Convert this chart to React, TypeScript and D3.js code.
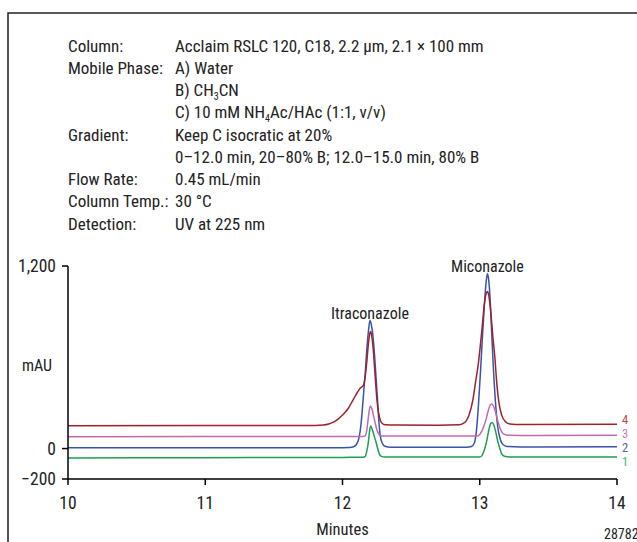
import React from "react";
import * as d3 from "d3";

type Pt = [number, number];

const xTicks = [10, 11, 12, 13, 14];
const yTicks = [1200, 0, -200];
const peakNames = ["Itraconazole", "Miconazole"];
const peakTimes = [12.2, 13.056];
const peakLabelValues = [890, 1195];
const traceNames = ["1", "2", "3", "4"];
const traceColors = ["#1f9e4f", "#3853ad", "#c46aac", "#9e2228"];
const labelColors = ["#3cbc68", "#5064b8", "#d07cbc", "#b0484e"];

const header: [string, string][] = [
  ["Column:", "Acclaim RSLC 120, C18, 2.2 µm, 2.1 × 100 mm"],
  ["Mobile Phase:", "A) Water"],
  ["", "B) CH|3|CN"],
  ["", "C) 10 mM NH|4|Ac/HAc (1:1, v/v)"],
  ["Gradient:", "Keep C isocratic at 20%"],
  ["", "0–12.0 min, 20–80% B; 12.0–15.0 min, 80% B"],
  ["Flow Rate:", "0.45  mL/min"],
  ["Column Temp.:", "30 °C"],
  ["Detection:", "UV at 225 nm"],
];

const trace1: Pt[] = [
  [10, -62], [11, -60], [12, -58], [12.15, -57], [12.165, -53], [12.175, -25],
  [12.189, 46], [12.198, 120], [12.205, 149], [12.215, 130], [12.23, 85],
  [12.243, 46], [12.255, 5], [12.268, -35], [12.28, -50], [12.31, -56],
  [12.6, -56], [13.0, -56], [13.015, -48], [13.035, -5], [13.052, 56],
  [13.068, 130], [13.082, 168], [13.09, 170], [13.1, 160], [13.115, 115],
  [13.129, 56], [13.145, 5], [13.16, -35], [13.18, -50], [13.22, -55], [14, -55],
];

const trace2: Pt[] = [
  [10, 5], [11, 6], [11.5, 6], [12.0, 6], [12.05, 7], [12.08, 12], [12.1, 25],
  [12.12, 70], [12.135, 160], [12.15, 320], [12.165, 490], [12.177, 649],
  [12.19, 780], [12.2, 841], [12.21, 815], [12.222, 740], [12.233, 620],
  [12.245, 460], [12.255, 320], [12.265, 180], [12.275, 85], [12.29, 35],
  [12.31, 15], [12.35, 9], [12.6, 8], [12.9, 9], [12.94, 14], [12.96, 35],
  [12.975, 110], [12.99, 280], [13.005, 500], [13.02, 740], [13.035, 960],
  [13.047, 1100], [13.056, 1149], [13.065, 1110], [13.077, 960], [13.09, 700],
  [13.1, 520], [13.115, 300], [13.13, 150], [13.15, 60], [13.17, 25],
  [13.2, 14], [13.3, 11], [14, 12],
];

const trace3: Pt[] = [
  [10, 78], [11, 79], [12, 80], [12.15, 80], [12.165, 84], [12.175, 110],
  [12.184, 170], [12.193, 240], [12.203, 280], [12.213, 265], [12.225, 220],
  [12.238, 170], [12.25, 125], [12.262, 98], [12.275, 86], [12.3, 82],
  [12.6, 82], [12.98, 83], [12.995, 88], [13.015, 115], [13.035, 160],
  [13.047, 195], [13.062, 250], [13.078, 288], [13.088, 293], [13.1, 280],
  [13.115, 240], [13.129, 190], [13.145, 140], [13.16, 110], [13.18, 93],
  [13.21, 87], [13.3, 86], [14, 87],
];

const trace4: Pt[] = [
  [10, 150], [11, 151], [11.5, 152], [11.8, 152], [11.86, 155], [11.9, 162],
  [11.93, 172], [11.97, 195], [12.0, 220], [12.04, 262], [12.08, 325],
  [12.11, 372], [12.13, 398], [12.152, 415], [12.165, 470], [12.178, 580],
  [12.19, 700], [12.2, 760], [12.206, 770], [12.213, 740], [12.225, 640],
  [12.24, 450], [12.25, 330], [12.262, 240], [12.274, 190], [12.29, 165],
  [12.31, 157], [12.4, 155], [12.7, 154], [12.85, 156], [12.88, 165],
  [12.9, 180], [12.92, 215], [12.95, 320], [12.97, 440], [12.99, 560],
  [13.0, 640], [13.02, 820], [13.035, 960], [13.047, 1020], [13.056, 1032],
  [13.065, 1010], [13.08, 900], [13.095, 740], [13.11, 600], [13.125, 420],
  [13.14, 300], [13.16, 220], [13.19, 175], [13.22, 162], [13.3, 158], [14, 160],
];

const traces = [trace1, trace2, trace3, trace4];

const FONT = "'Liberation Sans Narrow', 'Arial Narrow', 'Roboto Condensed', sans-serif";
const HEAD_SIZE = 17;

function SubText({ text, x, y }: { text: string; x: number; y: number }) {
  const parts = text.split("|");
  return (
    <text x={x} y={y} fontSize={HEAD_SIZE} fontFamily={FONT} fill="#222">
      {parts.map((p, i) =>
        i % 2 === 1 ? (
          <tspan key={i} dy={4} fontSize={10}>{p}</tspan>
        ) : (
          <tspan key={i} dy={i === 0 ? 0 : -4}>{p}</tspan>
        )
      )}
    </text>
  );
}

export default function App() {
  const x = d3.scaleLinear().domain([10, 14]).range([68, 617]);
  const y = d3.scaleLinear().domain([-200, 1200]).range([479, 266]);
  const line = d3
    .line<Pt>()
    .x((d) => x(d[0]))
    .y((d) => y(d[1]))
    .curve(d3.curveMonotoneX);

  return (
    <div style={{ position: "fixed", left: 0, top: 0 }}>
      <svg width={637} height={542} style={{ display: "block", background: "#fff" }}>
        <rect x={8} y={13} width={700} height={600} fill="none" stroke="#222" strokeWidth={1.5} />
        {header.map((row, i) => (
          <g key={i}>
            {row[0] && (
              <text x={68} y={51.5 + i * 22.25} fontSize={HEAD_SIZE} fontFamily={FONT} fill="#222">
                {row[0]}
              </text>
            )}
            <SubText text={row[1]} x={175} y={51.5 + i * 22.25} />
          </g>
        ))}

        {traces.map((t, i) => (
          <path key={i} d={line(t) || ""} fill="none" stroke={traceColors[i]} strokeWidth={1.5} />
        ))}

        {/* axes */}
        <line x1={x(10)} x2={x(10)} y1={y(1200)} y2={y(-200)} stroke="#000" strokeWidth={1.5} />
        <line x1={x(10)} x2={x(14)} y1={y(-200)} y2={y(-200)} stroke="#000" strokeWidth={1.5} />
        {yTicks.map((v) => (
          <g key={v}>
            <line x1={x(10) - 6} x2={x(10)} y1={y(v)} y2={y(v)} stroke="#000" strokeWidth={1.5} />
            <text x={x(10) - 12} y={y(v)} dy="0.35em" textAnchor="end" fontSize={17.5} fontFamily={FONT} fill="#222">
              {d3.format(",")(v)}
            </text>
          </g>
        ))}
        {xTicks.map((v) => (
          <g key={v}>
            <line x1={x(v)} x2={x(v)} y1={y(-200)} y2={y(-200) + 6} stroke="#000" strokeWidth={1.5} />
            <text x={x(v)} y={503} dy="0.35em" textAnchor="middle" fontSize={17.5} fontFamily={FONT} fill="#222">
              {v}
            </text>
          </g>
        ))}
        <text x={(x(10) + x(14)) / 2} y={529} dy="0.35em" textAnchor="middle" fontSize={16.5} fontFamily={FONT} fill="#222">
          Minutes
        </text>
        <text x={37} y={365} dy="0.35em" textAnchor="middle" fontSize={16} fontFamily={FONT} fill="#222">
          mAU
        </text>

        {peakNames.map((n, i) => (
          <text key={n} x={x(peakTimes[i])} y={y(peakLabelValues[i])} dy="0.35em" textAnchor="middle" fontSize={16} fontFamily={FONT} fill="#222">
            {n}
          </text>
        ))}

        {traceNames.map((n, i) => (
          <text key={n} x={622} y={[462, 447.5, 433.5, 419.5][i]} dy="0.35em" fontSize={12.5} fontFamily={FONT} fill={labelColors[i]}>
            {n}
          </text>
        ))}
        <text x={604} y={534} dy="0.35em" fontSize={14} fontFamily={FONT} fill="#222">
          28782
        </text>
      </svg>
    </div>
  );
}
